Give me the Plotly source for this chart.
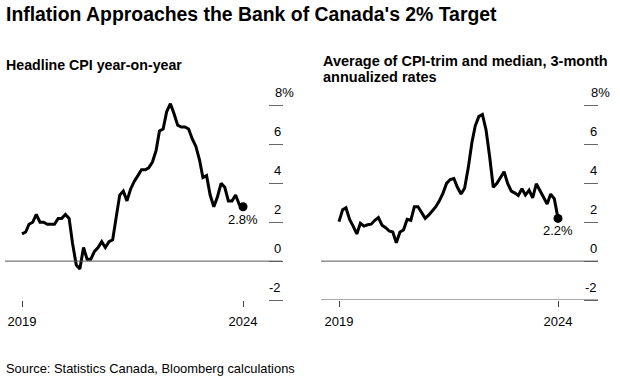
import pandas as pd
import plotly.graph_objects as go

# ---------------- data ----------------
dates = pd.date_range("2019-01-01", "2024-02-01", freq="MS")

headline_cpi = [
    1.4, 1.5, 1.9, 2.0, 2.4, 2.0, 2.0, 1.9, 1.9, 1.9, 2.2, 2.2,   # 2019
    2.4, 2.2, 0.9, -0.2, -0.4, 0.7, 0.1, 0.1, 0.5, 0.7, 1.0, 0.7,  # 2020
    1.0, 1.1, 2.2, 3.4, 3.6, 3.1, 3.7, 4.1, 4.4, 4.7, 4.7, 4.8,    # 2021
    5.1, 5.7, 6.7, 6.8, 7.7, 8.1, 7.6, 7.0, 6.9, 6.9, 6.8, 6.3,    # 2022
    5.9, 5.2, 4.3, 4.4, 3.4, 2.8, 3.3, 4.0, 3.8, 3.1, 3.1, 3.4,    # 2023
    2.9, 2.8,                                                       # 2024
]

core_avg_3m = [
    2.03, 2.65, 2.75, 2.15, 1.8, 1.4, 1.95, 1.8, 1.87, 1.9, 2.1, 2.24,
    1.85, 1.72, 1.55, 1.5, 0.95, 1.5, 1.6, 2.15, 2.1, 2.8, 2.8, 2.5,
    2.2, 2.38, 2.6, 2.8, 3.1, 3.5, 4.0, 4.2, 4.25, 3.8, 3.45, 3.75,
    4.8, 6.1, 6.95, 7.45, 7.55, 6.75, 5.4, 3.8, 4.0, 4.3, 4.6, 4.0,
    3.6, 3.5, 3.38, 3.72, 3.4, 3.65, 3.25, 3.98, 3.6, 3.25, 2.94, 3.45,
    3.2, 2.2,
]

y_tick_vals = [-2, 0, 2, 4, 6, 8]
y_tick_text = ["-2", "0", "2", "4", "6", "8%"]
x_tick_text = ["2019", "2024"]

title_text = "Inflation Approaches the Bank of Canada's 2% Target"
left_title = "Headline CPI year-on-year"
right_title_lines = ["Average of CPI-trim and median, 3-month", "annualized rates"]
source_text = "Source: Statistics Canada, Bloomberg calculations"
left_label = "2.8%"
right_label = "2.2%"

# ---------------- layout helpers ----------------
W, H = 620, 380
FONT = "Liberation Sans, Arial, sans-serif"


def fx(p):
    return p / W


def fy(p):
    return 1 - p / H


def date_range_for(first_px, last_px, left_px, right_px):
    span = dates[-1] - dates[0]
    per_px = span / (last_px - first_px)
    return [dates[0] - per_px * (first_px - left_px), dates[-1] + per_px * (right_px - last_px)]


Y_TOP_PX, Y_BOT_PX = 94.0, 300.0
y_range = [-2, 8.6]
y_domain = [fy(Y_BOT_PX), fy(Y_TOP_PX)]

fig = go.Figure()

line_style = dict(color="black", width=3)
fig.add_trace(go.Scatter(x=dates, y=headline_cpi, mode="lines", line=line_style,
                         xaxis="x", yaxis="y", hoverinfo="skip"))
fig.add_trace(go.Scatter(x=[dates[-1]], y=[headline_cpi[-1]], mode="markers",
                         marker=dict(color="black", size=9), xaxis="x", yaxis="y"))
fig.add_trace(go.Scatter(x=dates, y=core_avg_3m, mode="lines", line=line_style,
                         xaxis="x2", yaxis="y2", hoverinfo="skip"))
fig.add_trace(go.Scatter(x=[dates[-1]], y=[core_avg_3m[-1]], mode="markers",
                         marker=dict(color="black", size=9), xaxis="x2", yaxis="y2"))

xa_common = dict(
    type="date", showgrid=False, zeroline=False, showline=False,
    ticks="outside", ticklen=6, tickwidth=1, tickcolor="#444",
    tickvals=[dates[0], dates[-1]], ticktext=x_tick_text,
    ticklabelstandoff=3,
    tickfont=dict(family=FONT, size=13, color="black"),
    fixedrange=True,
)
ya_common = dict(
    range=y_range, domain=y_domain, side="right",
    showgrid=False, zeroline=False, showline=False,
    ticks="outside", ticklen=14, tickwidth=1, tickcolor="#666",
    tickvals=y_tick_vals, showticklabels=False,
    fixedrange=True,
)

fig.update_layout(
    width=W, height=H,
    margin=dict(l=0, r=0, t=0, b=0),
    paper_bgcolor="white", plot_bgcolor="white",
    showlegend=False,
    xaxis=dict(xa_common, domain=[fx(5), fx(268)], anchor="y",
               range=date_range_for(22, 243, 5, 268)),
    yaxis=dict(ya_common, anchor="x"),
    xaxis2=dict(xa_common, domain=[fx(321), fx(583)], anchor="y2",
                range=date_range_for(339, 558, 321, 583)),
    yaxis2=dict(ya_common, anchor="x2"),
)

shapes = [
    dict(type="line", xref="paper", yref="y", x0=fx(5), x1=fx(282), y0=0, y1=0,
         line=dict(color="#555", width=1)),
    dict(type="line", xref="paper", yref="y2", x0=fx(321), x1=fx(598), y0=0, y1=0,
         line=dict(color="#555", width=1)),
    dict(type="line", xref="paper", yref="y2", x0=fx(321), x1=fx(598), y0=-2, y1=-2,
         line=dict(color="#555", width=1)),
]
fig.update_layout(shapes=shapes)

annotations = [
    dict(text=f"<b>{title_text}</b>", xref="paper", yref="paper", x=fx(4), y=fy(14),
         xanchor="left", yanchor="middle", showarrow=False,
         font=dict(family=FONT, size=19.4, color="black")),
    dict(text=f"<b>{left_title}</b>", xref="paper", yref="paper", x=fx(4), y=fy(64.5),
         xanchor="left", yanchor="middle", showarrow=False,
         font=dict(family=FONT, size=14.2, color="black")),
    dict(text=f"<b>{right_title_lines[0]}</b>", xref="paper", yref="paper", x=fx(321), y=fy(60.5),
         xanchor="left", yanchor="middle", showarrow=False, align="left",
         font=dict(family=FONT, size=14.5, color="black")),
    dict(text=f"<b>{right_title_lines[1]}</b>", xref="paper", yref="paper", x=fx(321), y=fy(76.5),
         xanchor="left", yanchor="middle", showarrow=False, align="left",
         font=dict(family=FONT, size=14.5, color="black")),
    dict(text=source_text, xref="paper", yref="paper", x=fx(4), y=fy(368),
         xanchor="left", yanchor="middle", showarrow=False,
         font=dict(family=FONT, size=12.9, color="black")),
    dict(text=left_label, xref="x", yref="y", x=dates[-1], y=headline_cpi[-1],
         yshift=-13, xanchor="center", yanchor="middle", showarrow=False,
         font=dict(family=FONT, size=13, color="black")),
    dict(text=right_label, xref="x2", yref="y2", x=dates[-1], y=core_avg_3m[-1],
         yshift=-12, xanchor="center", yanchor="middle", showarrow=False,
         font=dict(family=FONT, size=13, color="black")),
]

# y-axis labels sitting above each tick mark, at the right of each panel
for yref, tick_end_px in (("y", 282.5), ("y2", 598.5)):
    for val, txt in zip(y_tick_vals, y_tick_text):
        if txt.endswith("%"):
            xpos, xanch = fx(tick_end_px - 9.5), "left"
        else:
            xpos, xanch = fx(tick_end_px), "right"
        annotations.append(dict(
            text=txt, xref="paper", yref=yref, x=xpos, y=val, yshift=13,
            xanchor=xanch, yanchor="middle", showarrow=False,
            font=dict(family=FONT, size=13, color="black")))

fig.update_layout(annotations=annotations)

fig.write_html("out.html", config={"displayModeBar": False},
               post_script="document.body.style.margin='0';")
